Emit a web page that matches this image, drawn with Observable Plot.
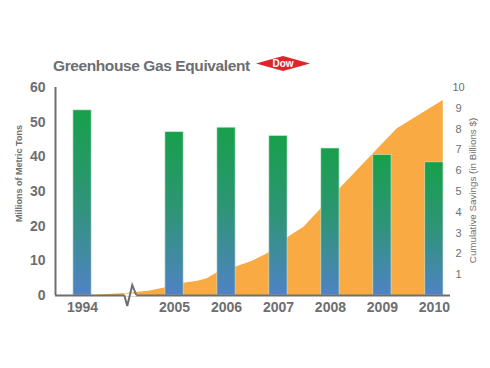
<!DOCTYPE html>
<html>
<head>
<meta charset="utf-8">
<script src="https://cdn.jsdelivr.net/npm/d3@7"></script>
<script src="https://cdn.jsdelivr.net/npm/@observablehq/plot@0.6"></script>
<style>
  body { margin: 0; background: #fff; }
  #wrap { position: relative; width: 490px; height: 368px; font-family: "Liberation Sans", Arial, sans-serif; }
  #title { position: absolute; left: 53px; top: 57px; font-size: 15.5px; letter-spacing: -0.4px; font-weight: bold; color: #6d6e70; white-space: nowrap; }
  #logo { position: absolute; left: 256px; top: 56px; }
  #chart { position: absolute; left: 0; top: 0; }
</style>
</head>
<body>
<div id="wrap">
  <div id="chart"></div>
  <div id="title">Greenhouse Gas Equivalent</div>
  <svg id="logo" width="54" height="16" viewBox="0 0 54 16">
    <polygon points="0,7.5 27,0 54,7.5 27,15" fill="#e3232b"/>
    <text x="27" y="11.2" text-anchor="middle" font-family="Liberation Sans, Arial, sans-serif" font-weight="bold" font-size="10" fill="#fff">Dow</text>
  </svg>
</div>
<script>
// ---- data ----
const years = ["1994", "2005", "2006", "2007", "2008", "2009", "2010"];
const ghg = [53.4, 47.1, 48.4, 46.0, 42.4, 40.5, 38.4];           // Millions of metric tons
const savingsTime = [2003.38, 2004.06, 2004.5, 2004.83, 2005.18, 2005.45, 2005.63, 2005.82, 2006.17, 2006.5, 2006.78, 2007.13, 2007.49, 2008.15, 2009.28, 2010.17];
const savings = [0, 0.1, 0.2, 0.37, 0.59, 0.68, 0.8, 1.09, 1.36, 1.65, 2.0, 2.7, 3.28, 5.05, 8.0, 9.37]; // Billions $
const leftTicks = [0, 10, 20, 30, 40, 50, 60];
const rightTicks = [1, 2, 3, 4, 5, 6, 7, 8, 9, 10];

// broken axis: 1994 is placed just left of the break
const breakYear = 2004.1;
const pos = y => (+y < 2000 ? 2003.23 : +y);
const ratio = 6; // right axis (0-10) to left axis (0-60)
const barHalf = 0.175;
const gray = "#6d6e70";

const bars = years.map((y, i) => ({ year: y, value: ghg[i] }));
const area = savingsTime.map((t, i) => ({ t, v: savings[i] }));

function axisBreak(index, scales, values, dims) {
  const x = scales.x(breakYear), y = scales.y(0);
  const g = d3.create("svg:g");
  g.append("path").attr("d", `M${x - 3},${y} h12`).attr("stroke", "#fff").attr("stroke-width", 3);
  g.append("path")
    .attr("d", `M${x - 3},${y} l3,11 l5,-21 l4,10`)
    .attr("fill", "none").attr("stroke", gray).attr("stroke-width", 2).attr("stroke-linejoin", "miter");
  return g.node();
}

const chart = Plot.plot({
  width: 490,
  height: 368,
  marginTop: 87,
  marginBottom: 73,
  marginLeft: 55,
  marginRight: 40,
  style: { fontFamily: "Liberation Sans, Arial, sans-serif", background: "transparent" },
  x: { domain: [2002.71, 2010.31] },
  y: { domain: [0, 60] },
  marks: [
    Plot.areaY(area, { x: "t", y: d => d.v * ratio, fill: "#f9aa42" }),
    Plot.rectY(bars, {
      x1: d => pos(d.year) - barHalf,
      x2: d => pos(d.year) + barHalf,
      y: "value",
      fill: "url(#barGrad)",
      stroke: "#c9e8d2",
      strokeWidth: 0.6
    }),
    Plot.ruleY([0], { stroke: gray, strokeWidth: 2 }),
    Plot.ruleX([2002.71], { y1: 0, y2: 60, stroke: gray, strokeWidth: 2 }),
    axisBreak,
    Plot.axisY({
      ticks: leftTicks, tickSize: 0, tickPadding: 10, label: null,
      fontSize: 14, fontWeight: "bold", fill: gray
    }),
    Plot.axisY({
      anchor: "right", ticks: rightTicks.map(v => v * ratio), tickFormat: v => String(v / ratio),
      tickSize: 0, tickPadding: 8, label: null, textAnchor: "middle",
      fontSize: 11, fill: gray
    }),
    Plot.axisX({
      ticks: years.map(pos), tickFormat: (v, i) => years[i],
      tickSize: 0, tickPadding: 7, label: null,
      fontSize: 14, fontWeight: "bold", fill: gray
    }),
    Plot.text(["Millions of Metric Tons"], {
      frameAnchor: "left", rotate: -90, dx: -36, dy: -18, textAnchor: "middle",
      fontSize: 9, fontWeight: "bold", fill: gray, style: "letter-spacing:-0.2px"
    }),
    Plot.text(["Cumulative Savings (in Billions $)"], {
      frameAnchor: "right", rotate: -90, dx: 22, dy: -1, textAnchor: "middle",
      fontSize: 9.8, fill: gray
    })
  ]
});

const svg = d3.select(chart);
const defs = svg.insert("defs", ":first-child");
const grad = defs.append("linearGradient").attr("id", "barGrad")
  .attr("x1", 0).attr("y1", 0).attr("x2", 0).attr("y2", 1);
grad.append("stop").attr("offset", "0%").attr("stop-color", "#17a04b");
grad.append("stop").attr("offset", "50%").attr("stop-color", "#2f9478");
grad.append("stop").attr("offset", "100%").attr("stop-color", "#4f82c6");

document.getElementById("chart").appendChild(chart);
</script>
</body>
</html>
